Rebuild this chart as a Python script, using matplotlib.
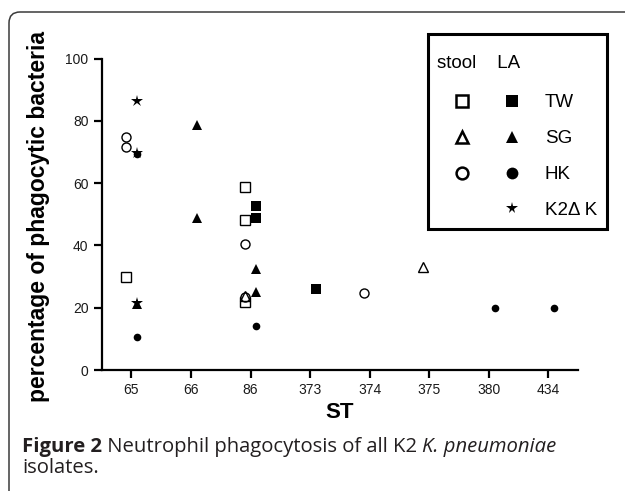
"""Neutrophil phagocytosis of K2 K. pneumoniae isolates, by ST."""
import matplotlib
matplotlib.use("Agg")
import matplotlib.pyplot as plt
from matplotlib.lines import Line2D
from matplotlib.legend_handler import HandlerTuple
from matplotlib.patches import FancyBboxPatch, Rectangle
from matplotlib.transforms import IdentityTransform

plt.rcParams["font.family"] = ["Liberation Sans", "DejaVu Sans"]

ST_LABELS = ["65", "66", "86", "373", "374", "375", "380", "434"]

# (ST, % phagocytic)
STOOL_TW_ST  = ["65", "86", "86", "86"]
STOOL_TW_VAL = [29.8, 58.8, 48.0, 21.9]
STOOL_SG_ST  = ["86", "375"]
STOOL_SG_VAL = [23.9, 33.1]
STOOL_HK_ST  = ["65", "65", "86", "86", "374"]
STOOL_HK_VAL = [74.7, 71.5, 40.3, 23.5, 24.8]

LA_TW_ST  = ["86", "86", "373"]
LA_TW_VAL = [52.8, 48.8, 26.1]
LA_SG_ST  = ["65", "66", "66", "86", "86"]
LA_SG_VAL = [21.3, 78.7, 48.8, 32.5, 25.0]
LA_HK_ST  = ["65", "65", "86", "380", "434"]
LA_HK_VAL = [69.4, 10.7, 14.0, 19.8, 20.0]
K2DK_ST  = ["65", "65", "65"]
K2DK_VAL = [86.4, 69.6, 21.6]

OFFSET = 0.1   # stool left of the tick, LA right
W, H = 625, 491
CAP_FONT = ["Open Sans", "DejaVu Sans"]

fig = plt.figure(figsize=(W / 100, H / 100), dpi=100)
ax = fig.add_axes([101.7 / W, 1 - 370 / H, (578 - 101.7) / W, (370 - 58.5) / H])


def xpos(sts, shift):
    return [ST_LABELS.index(s) + shift for s in sts]


open_kw = dict(ls="none", mfc="white", mec="black", mew=1.0)
fill_kw = dict(ls="none", color="black", mew=0)

ax.plot(xpos(K2DK_ST, OFFSET), K2DK_VAL, marker="*", ms=9, **fill_kw)
ax.plot(xpos(STOOL_TW_ST, -OFFSET), STOOL_TW_VAL, marker="s", ms=6.5, **open_kw)
ax.plot(xpos(STOOL_HK_ST, -OFFSET), STOOL_HK_VAL, marker="o", ms=6.5, **open_kw)
ax.plot(xpos(STOOL_SG_ST, -OFFSET), STOOL_SG_VAL, marker="^", ms=6.5, mfc="none",
        ls="none", mec="black", mew=1.0)
ax.plot(xpos(LA_TW_ST, OFFSET), LA_TW_VAL, marker="s", ms=6.8, **fill_kw)
ax.plot(xpos(LA_SG_ST, OFFSET), LA_SG_VAL, marker="^", ms=7.2, **fill_kw)
ax.plot(xpos(LA_HK_ST, OFFSET), LA_HK_VAL, marker="o", ms=5.5, **fill_kw)

ax.set_xlim(-0.5, 7.5)
ax.set_ylim(0, 100)
ax.set_xticks(range(len(ST_LABELS)))
ax.set_xticklabels(ST_LABELS)
ax.set_yticks([0, 20, 40, 60, 80, 100])
for side in ("top", "right"):
    ax.spines[side].set_visible(False)
for side in ("left", "bottom"):
    ax.spines[side].set_linewidth(1.6)
ax.tick_params(axis="both", width=1.6, length=5.5, labelsize=10,
               labelcolor="#1a1a1a", pad=4)

fig.text(39 / W, 1 - 217 / H, "percentage of phagocytic bacteria", rotation=90,
         ha="center", va="center", fontsize=16.5, fontweight="bold")
fig.text(340 / W, 1 - 413 / H, "ST", ha="center", va="center",
         fontsize=16, fontweight="bold")


# legend: stool / LA marker columns side by side, boxed
def leg(marker, ms, filled, mew=1.8):
    if filled is None:
        return Line2D([], [], ls="none", marker="")
    if filled:
        return Line2D([], [], ls="none", marker=marker, ms=ms, color="black", mew=0)
    return Line2D([], [], ls="none", marker=marker, ms=ms, mfc="white",
                  mec="black", mew=mew)


handles = [
    (leg("s", 8.5, False), leg("s", 8, True)),
    (leg("^", 8.5, False), leg("^", 8.5, True)),
    (leg("o", 8.5, False), leg("o", 8.5, True)),
    (leg("", 0, None), leg("*", 8.5, True)),
]
labels = ["TW", "SG", "HK", "K2\u0394 K"]
lg = fig.legend(handles, labels, handler_map={tuple: HandlerTuple(ndivide=None, pad=0)},
                loc="upper left", bbox_to_anchor=(437 / W, 1 - 55 / H),
                fontsize=13.5, title="stool    LA", title_fontsize=13.5,
                alignment="left", handlelength=5.33, handletextpad=0.43,
                labelspacing=1.0, borderpad=0, borderaxespad=0,
                frameon=False)
lg._legend_box.sep = 16
fig.patches.append(Rectangle((428, H - 229), 607 - 428, 229 - 34,
                             transform=IdentityTransform(), fill=False,
                             edgecolor="black", linewidth=2.2))

# caption
cap = fig.text(22 / W, 1 - 447 / H, "Figure 2", fontsize=14.6, fontweight="bold",
               family=CAP_FONT, va="center", color="#231f20")
prev = cap
for txt, style in [(" Neutrophil phagocytosis of all K2 ", "normal"),
                   ("K. pneumoniae", "italic")]:
    prev = ax.annotate(txt, xy=(1, 0.5), xycoords=prev, va="center", ha="left",
                       fontsize=14.6, style=style, family=CAP_FONT,
                       color="#231f20", annotation_clip=False)
fig.text(22 / W, 1 - 468 / H, "isolates.", fontsize=14.6, va="center",
         family=CAP_FONT, color="#231f20")

# rounded panel frame, open to the right and bottom
fig.patches.append(FancyBboxPatch((9, -30), 700, (H - 12) + 30,
                                  boxstyle="round,pad=0,rounding_size=11",
                                  transform=IdentityTransform(), fill=False,
                                  edgecolor="#3a3a3a", linewidth=1.1))

fig.savefig("out.png", dpi=100)
